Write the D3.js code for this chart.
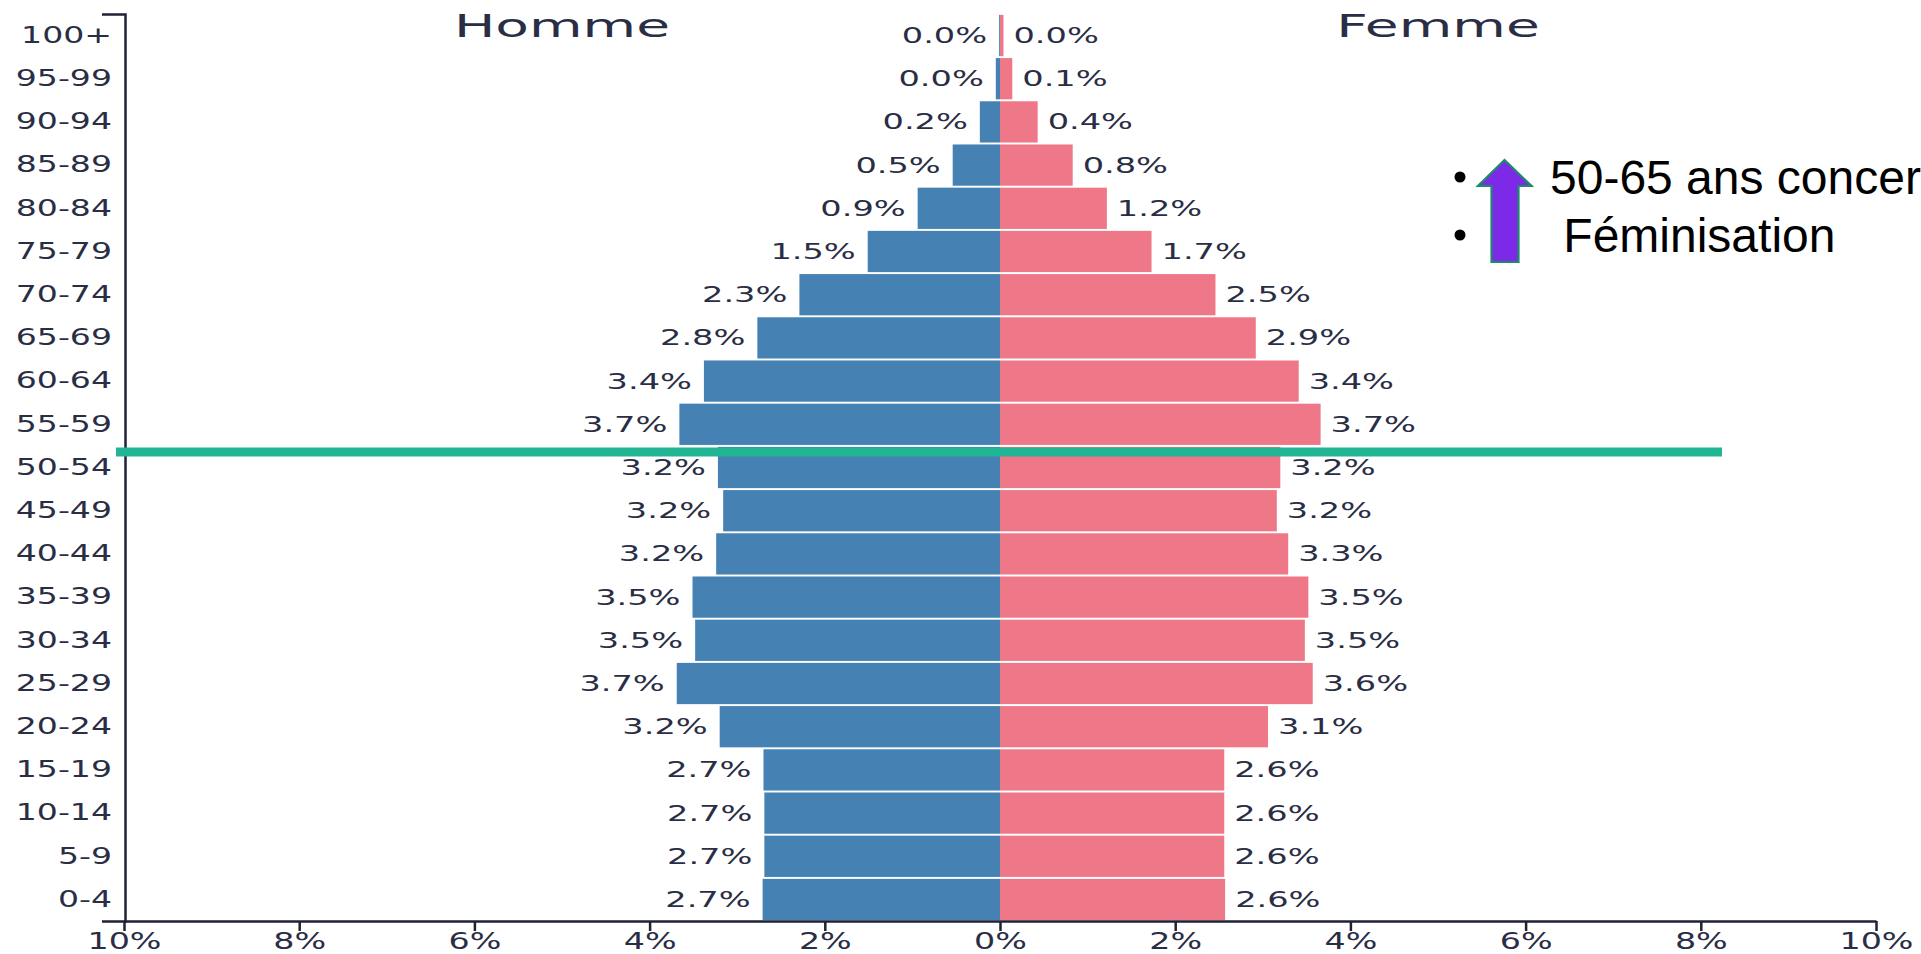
<!DOCTYPE html>
<html>
<head>
<meta charset="utf-8">
<script src="https://cdn.jsdelivr.net/npm/d3@7"></script>
<style>
  html, body { margin: 0; padding: 0; background: #fff; overflow: hidden; }
  svg { display: block; }
</style>
</head>
<body>
<svg id="chart" width="1921" height="954"></svg>
<script>
// ---- data ----
const ages = ["100+","95-99","90-94","85-89","80-84","75-79","70-74","65-69","60-64","55-59",
              "50-54","45-49","40-44","35-39","30-34","25-29","20-24","15-19","10-14","5-9","0-4"];
const male =   [0.01, 0.048, 0.23, 0.54, 0.94, 1.51, 2.29, 2.77, 3.38, 3.66,
                3.22, 3.16, 3.24, 3.51, 3.48, 3.69, 3.20, 2.70, 2.69, 2.69, 2.71];
const female = [0.04, 0.14, 0.43, 0.83, 1.22, 1.73, 2.46, 2.92, 3.41, 3.66,
                3.20, 3.16, 3.29, 3.52, 3.48, 3.57, 3.06, 2.56, 2.56, 2.56, 2.57];
const xTicks = [-10, -8, -6, -4, -2, 0, 2, 4, 6, 8, 10];
const sideTitles = ["Homme", "Femme"];
const notes = ["50-65 ans concernés", " Féminisation"];

// ---- setup ----
const svg = d3.select("#chart");
const W = 1921, H = 954;
svg.append("rect").attr("width", W).attr("height", H).attr("fill", "#fff");

const inkColor = "#2a2e45";
const axisColor = "#1f2236";
const font = "'DejaVu Sans', Verdana, sans-serif";

const x = d3.scaleLinear().domain([-10, 10]).range([124, 1876]);
const y = d3.scaleBand().domain(ages).range([14, 921]).paddingInner(0.045).paddingOuter(0.02);

const rows = ages.map((a, i) => ({ age: a, m: male[i], f: female[i] }));
const fmt = d3.format(".1f");

// ---- bars ----
svg.append("g").selectAll("rect").data(rows).join("rect")
  .attr("x", d => x(-d.m)).attr("width", d => x(0) - x(-d.m))
  .attr("y", d => y(d.age)).attr("height", y.bandwidth())
  .attr("fill", "#4681b3");
svg.append("g").selectAll("rect").data(rows).join("rect")
  .attr("x", x(0)).attr("width", d => x(d.f) - x(0))
  .attr("y", d => y(d.age)).attr("height", y.bandwidth())
  .attr("fill", "#ef7888");

// ---- value labels ----
const vsx = 1.6;
svg.append("g").selectAll("text").data(rows).join("text")
  .attr("transform", d => `translate(${x(-d.m) - 12},${y(d.age) + y.bandwidth() / 2}) scale(${vsx},1)`)
  .attr("text-anchor", "end").attr("dy", "0.36em")
  .attr("font-family", font).attr("font-size", 21).attr("fill", inkColor)
  .text(d => fmt(d.m) + "%");
svg.append("g").selectAll("text").data(rows).join("text")
  .attr("transform", d => `translate(${x(d.f) + 10},${y(d.age) + y.bandwidth() / 2}) scale(${vsx},1)`)
  .attr("text-anchor", "start").attr("dy", "0.36em")
  .attr("font-family", font).attr("font-size", 21).attr("fill", inkColor)
  .text(d => fmt(d.f) + "%");

// ---- axes ----
const ysx = 1.44;
const yAxisG = svg.append("g").attr("transform", `translate(${x(-10) + 1},0)`)
  .call(d3.axisLeft(y).tickSizeInner(0).tickSizeOuter(23).tickPadding(13));
yAxisG.select(".domain").attr("stroke", axisColor).attr("stroke-width", 2.5);
yAxisG.selectAll("text")
  .attr("font-family", font).attr("font-size", 23).attr("fill", inkColor)
  .attr("x", -13 / ysx).attr("transform", `scale(${ysx},1)`);

const xsx = 1.48;
const xAxisG = svg.append("g").attr("transform", `translate(0,${y.range()[1]})`)
  .call(d3.axisBottom(x).tickValues(xTicks).tickSizeInner(10).tickSizeOuter(0).tickPadding(2)
        .tickFormat(d => Math.abs(d) + "%"));
xAxisG.select(".domain").attr("stroke", axisColor).attr("stroke-width", 2.5);
xAxisG.selectAll(".tick line").attr("stroke", axisColor).attr("stroke-width", 2.5);
xAxisG.selectAll("text")
  .attr("font-family", font).attr("font-size", 22.5).attr("fill", inkColor)
  .attr("transform", `scale(${xsx},1)`);

// ---- side titles ----
svg.append("g").selectAll("text").data(sideTitles).join("text")
  .attr("transform", (d, i) => `translate(${i === 0 ? (x(-10) + x(0)) / 2 : (x(0) + x(10)) / 2},36.5) scale(1.72,1)`)
  .attr("text-anchor", "middle")
  .attr("font-family", font).attr("font-size", 32).attr("fill", inkColor)
  .text(d => d);

// ---- green separator line ----
const lineY = y("50-54") - (y.step() - y.bandwidth()) / 2 + 6;
svg.append("line")
  .attr("x1", 116).attr("x2", 1722).attr("y1", lineY).attr("y2", lineY)
  .attr("stroke", "#21b593").attr("stroke-width", 9);

// ---- annotation ----
const ann = svg.append("g").attr("font-family", "'Liberation Sans', Arial, Helvetica, sans-serif").attr("fill", "#000");
ann.selectAll("circle").data(notes).join("circle")
  .attr("cx", 1460).attr("cy", (d, i) => 177 + i * 58).attr("r", 5.5).attr("fill", "#000");
ann.append("path")
  .attr("d", "M1504.5,160 L1531.5,186 L1518.5,186 L1518.5,262 L1491.5,262 L1491.5,186 L1478,186 Z")
  .attr("fill", "#7d2ae8").attr("stroke", "#1e8a6c").attr("stroke-width", 2.2);
ann.selectAll("text").data(notes).join("text")
  .attr("x", 1550)
  .attr("y", (d, i) => 194 + i * 58)
  .attr("font-size", 48)
  .attr("xml:space", "preserve")
  .style("white-space", "pre")
  .text(d => d);
</script>
</body>
</html>
